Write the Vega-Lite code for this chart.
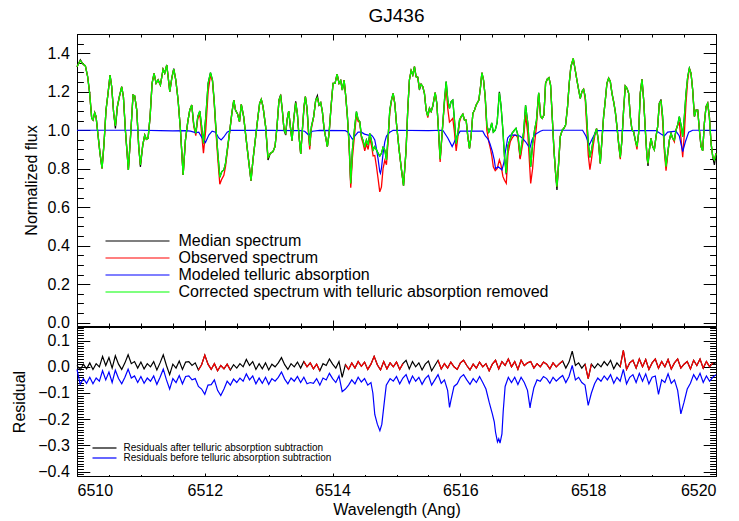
{
"$schema": "https://vega.github.io/schema/vega-lite/v6.json",
"padding": {"left": 11, "top": 6, "right": 5, "bottom": 5},
"background": "white",
"config": {"font": "Liberation Sans", "view": {"stroke": "black", "strokeWidth": 1}, "axis": {"domain": false, "grid": false, "tickColor": "black", "labelColor": "black", "titleColor": "black", "labelFont": "Liberation Sans", "titleFont": "Liberation Sans", "labelFontSize": 16, "titleFontSize": 16, "titleFontWeight": "normal", "tickWidth": 1}},
"datasets": {
"corrected": [
{"w":6510.000,"f":1.330},{"w":6510.052,"f":1.362},{"w":6510.094,"f":1.344},{"w":6510.131,"f":1.334},{"w":6510.167,"f":1.278},{"w":6510.198,"f":1.192},{"w":6510.230,"f":1.062},{"w":6510.251,"f":1.053},{"w":6510.277,"f":1.091},{"w":6510.298,"f":1.071},{"w":6510.329,"f":0.975},{"w":6510.360,"f":0.880},{"w":6510.392,"f":0.802},{"w":6510.423,"f":0.932},{"w":6510.454,"f":1.105},{"w":6510.486,"f":1.192},{"w":6510.517,"f":1.287},{"w":6510.543,"f":1.226},{"w":6510.574,"f":1.088},{"w":6510.601,"f":1.022},{"w":6510.632,"f":1.123},{"w":6510.663,"f":1.175},{"w":6510.700,"f":1.226},{"w":6510.726,"f":1.175},{"w":6510.757,"f":1.001},{"w":6510.804,"f":0.794},{"w":6510.841,"f":0.984},{"w":6510.877,"f":1.183},{"w":6510.903,"f":1.178},{"w":6510.935,"f":1.105},{"w":6510.966,"f":0.915},{"w":6510.992,"f":0.820},{"w":6511.029,"f":0.923},{"w":6511.060,"f":0.975},{"w":6511.086,"f":0.953},{"w":6511.112,"f":0.958},{"w":6511.144,"f":1.071},{"w":6511.175,"f":1.244},{"w":6511.206,"f":1.296},{"w":6511.238,"f":1.244},{"w":6511.269,"f":1.261},{"w":6511.305,"f":1.235},{"w":6511.347,"f":1.317},{"w":6511.373,"f":1.296},{"w":6511.405,"f":1.339},{"w":6511.426,"f":1.278},{"w":6511.452,"f":1.201},{"w":6511.483,"f":1.270},{"w":6511.514,"f":1.317},{"w":6511.546,"f":1.261},{"w":6511.582,"f":1.157},{"w":6511.619,"f":1.001},{"w":6511.661,"f":0.768},{"w":6511.697,"f":0.949},{"w":6511.734,"f":1.045},{"w":6511.765,"f":1.105},{"w":6511.796,"f":1.131},{"w":6511.828,"f":1.027},{"w":6511.859,"f":0.984},{"w":6511.890,"f":1.071},{"w":6511.922,"f":1.100},{"w":6511.948,"f":1.027},{"w":6511.979,"f":0.932},{"w":6512.016,"f":1.071},{"w":6512.052,"f":1.244},{"w":6512.089,"f":1.299},{"w":6512.120,"f":1.261},{"w":6512.146,"f":1.157},{"w":6512.172,"f":1.019},{"w":6512.204,"f":0.880},{"w":6512.235,"f":0.756},{"w":6512.266,"f":0.785},{"w":6512.298,"f":0.794},{"w":6512.324,"f":0.828},{"w":6512.355,"f":0.906},{"w":6512.392,"f":1.001},{"w":6512.423,"f":1.088},{"w":6512.454,"f":1.157},{"w":6512.480,"f":1.105},{"w":6512.512,"f":1.085},{"w":6512.543,"f":1.045},{"w":6512.571,"f":1.135},{"w":6512.608,"f":1.071},{"w":6512.649,"f":0.949},{"w":6512.691,"f":0.828},{"w":6512.723,"f":0.738},{"w":6512.754,"f":0.846},{"w":6512.796,"f":0.967},{"w":6512.832,"f":1.071},{"w":6512.858,"f":1.140},{"w":6512.884,"f":1.161},{"w":6512.911,"f":1.123},{"w":6512.952,"f":1.019},{"w":6512.989,"f":0.859},{"w":6513.025,"f":0.880},{"w":6513.067,"f":0.889},{"w":6513.099,"f":0.915},{"w":6513.130,"f":1.019},{"w":6513.161,"f":1.157},{"w":6513.187,"f":1.178},{"w":6513.213,"f":1.105},{"w":6513.240,"f":1.001},{"w":6513.266,"f":0.984},{"w":6513.287,"f":1.053},{"w":6513.313,"f":1.100},{"w":6513.339,"f":1.019},{"w":6513.365,"f":0.946},{"w":6513.391,"f":1.053},{"w":6513.422,"f":1.143},{"w":6513.448,"f":1.088},{"w":6513.475,"f":0.967},{"w":6513.501,"f":0.877},{"w":6513.527,"f":1.001},{"w":6513.553,"f":1.123},{"w":6513.574,"f":1.175},{"w":6513.600,"f":1.114},{"w":6513.626,"f":0.984},{"w":6513.642,"f":0.918},{"w":6513.668,"f":1.019},{"w":6513.704,"f":1.071},{"w":6513.736,"f":1.157},{"w":6513.762,"f":1.169},{"w":6513.788,"f":1.131},{"w":6513.814,"f":1.143},{"w":6513.840,"f":1.097},{"w":6513.866,"f":1.010},{"w":6513.892,"f":0.963},{"w":6513.918,"f":0.915},{"w":6513.945,"f":0.984},{"w":6513.976,"f":1.123},{"w":6514.007,"f":1.244},{"w":6514.038,"f":1.244},{"w":6514.070,"f":1.292},{"w":6514.101,"f":1.244},{"w":6514.127,"f":1.258},{"w":6514.153,"f":1.209},{"w":6514.180,"f":1.261},{"w":6514.206,"f":1.175},{"w":6514.232,"f":1.071},{"w":6514.258,"f":0.932},{"w":6514.284,"f":0.724},{"w":6514.310,"f":0.898},{"w":6514.347,"f":1.019},{"w":6514.373,"f":1.097},{"w":6514.399,"f":1.057},{"w":6514.425,"f":1.045},{"w":6514.451,"f":0.970},{"w":6514.477,"f":0.946},{"w":6514.503,"f":0.911},{"w":6514.529,"f":0.949},{"w":6514.556,"f":0.923},{"w":6514.582,"f":0.984},{"w":6514.608,"f":0.946},{"w":6514.634,"f":0.898},{"w":6514.660,"f":0.915},{"w":6514.686,"f":0.898},{"w":6514.712,"f":0.880},{"w":6514.738,"f":0.866},{"w":6514.764,"f":0.880},{"w":6514.790,"f":0.911},{"w":6514.817,"f":0.898},{"w":6514.843,"f":0.846},{"w":6514.869,"f":0.967},{"w":6514.895,"f":1.105},{"w":6514.921,"f":1.157},{"w":6514.947,"f":1.192},{"w":6514.973,"f":1.140},{"w":6514.999,"f":1.036},{"w":6515.041,"f":0.898},{"w":6515.078,"f":0.794},{"w":6515.110,"f":0.712},{"w":6515.150,"f":0.898},{"w":6515.176,"f":1.105},{"w":6515.202,"f":1.261},{"w":6515.229,"f":1.310},{"w":6515.255,"f":1.287},{"w":6515.281,"f":1.330},{"w":6515.307,"f":1.278},{"w":6515.333,"f":1.275},{"w":6515.359,"f":1.218},{"w":6515.385,"f":1.239},{"w":6515.411,"f":1.227},{"w":6515.437,"f":1.192},{"w":6515.464,"f":1.105},{"w":6515.490,"f":1.074},{"w":6515.516,"f":1.114},{"w":6515.542,"f":1.097},{"w":6515.568,"f":1.126},{"w":6515.605,"f":1.195},{"w":6515.631,"f":1.140},{"w":6515.657,"f":1.001},{"w":6515.683,"f":0.849},{"w":6515.714,"f":0.984},{"w":6515.751,"f":1.157},{"w":6515.777,"f":1.253},{"w":6515.803,"f":1.157},{"w":6515.829,"f":1.114},{"w":6515.855,"f":1.149},{"w":6515.881,"f":1.157},{"w":6515.907,"f":1.053},{"w":6515.934,"f":0.929},{"w":6515.960,"f":0.984},{"w":6515.986,"f":1.053},{"w":6516.012,"f":1.071},{"w":6516.038,"f":1.083},{"w":6516.064,"f":1.053},{"w":6516.090,"f":1.053},{"w":6516.116,"f":0.967},{"w":6516.142,"f":0.906},{"w":6516.169,"f":0.975},{"w":6516.195,"f":1.088},{"w":6516.221,"f":1.105},{"w":6516.247,"f":1.131},{"w":6516.289,"f":1.157},{"w":6516.315,"f":1.226},{"w":6516.336,"f":1.299},{"w":6516.362,"f":1.261},{"w":6516.388,"f":1.175},{"w":6516.414,"f":1.025},{"w":6516.445,"f":0.990},{"w":6516.470,"f":1.010},{"w":6516.490,"f":1.038},{"w":6516.515,"f":0.990},{"w":6516.545,"f":1.000},{"w":6516.575,"f":1.040},{"w":6516.610,"f":1.195},{"w":6516.635,"f":1.130},{"w":6516.665,"f":1.000},{"w":6516.690,"f":0.863},{"w":6516.718,"f":0.778},{"w":6516.745,"f":0.920},{"w":6516.780,"f":0.955},{"w":6516.810,"f":0.985},{"w":6516.845,"f":1.000},{"w":6516.870,"f":1.010},{"w":6516.900,"f":0.975},{"w":6516.935,"f":0.870},{"w":6516.960,"f":0.930},{"w":6516.990,"f":0.990},{"w":6517.020,"f":1.130},{"w":6517.055,"f":1.036},{"w":6517.100,"f":0.810},{"w":6517.130,"f":0.930},{"w":6517.160,"f":1.000},{"w":6517.190,"f":1.050},{"w":6517.225,"f":1.195},{"w":6517.255,"f":1.071},{"w":6517.281,"f":1.062},{"w":6517.307,"f":1.079},{"w":6517.333,"f":1.244},{"w":6517.359,"f":1.265},{"w":6517.385,"f":1.273},{"w":6517.411,"f":1.235},{"w":6517.437,"f":1.071},{"w":6517.464,"f":0.898},{"w":6517.490,"f":0.776},{"w":6517.511,"f":0.707},{"w":6517.537,"f":0.828},{"w":6517.563,"f":0.967},{"w":6517.594,"f":1.001},{"w":6517.620,"f":1.010},{"w":6517.646,"f":1.027},{"w":6517.677,"f":1.123},{"w":6517.703,"f":1.244},{"w":6517.729,"f":1.330},{"w":6517.766,"f":1.374},{"w":6517.797,"f":1.313},{"w":6517.823,"f":1.261},{"w":6517.849,"f":1.213},{"w":6517.876,"f":1.166},{"w":6517.902,"f":1.201},{"w":6517.928,"f":1.213},{"w":6517.954,"f":1.175},{"w":6517.975,"f":1.071},{"w":6518.001,"f":0.932},{"w":6518.027,"f":0.859},{"w":6518.053,"f":0.898},{"w":6518.079,"f":0.949},{"w":6518.105,"f":0.984},{"w":6518.131,"f":1.008},{"w":6518.158,"f":0.949},{"w":6518.189,"f":0.828},{"w":6518.215,"f":0.949},{"w":6518.241,"f":1.071},{"w":6518.268,"f":1.157},{"w":6518.293,"f":1.244},{"w":6518.320,"f":1.270},{"w":6518.346,"f":1.253},{"w":6518.372,"f":1.192},{"w":6518.398,"f":1.149},{"w":6518.424,"f":1.097},{"w":6518.450,"f":1.019},{"w":6518.476,"f":0.932},{"w":6518.502,"f":0.859},{"w":6518.528,"f":0.949},{"w":6518.554,"f":1.105},{"w":6518.580,"f":1.230},{"w":6518.607,"f":1.218},{"w":6518.633,"f":1.192},{"w":6518.659,"f":1.071},{"w":6518.685,"f":1.001},{"w":6518.711,"f":0.993},{"w":6518.737,"f":0.949},{"w":6518.763,"f":0.915},{"w":6518.789,"f":0.984},{"w":6518.815,"f":1.192},{"w":6518.842,"f":1.265},{"w":6518.868,"f":1.157},{"w":6518.894,"f":1.001},{"w":6518.920,"f":0.863},{"w":6518.936,"f":0.828},{"w":6518.957,"f":0.898},{"w":6518.983,"f":0.958},{"w":6519.009,"f":0.915},{"w":6519.035,"f":0.898},{"w":6519.061,"f":0.967},{"w":6519.087,"f":1.019},{"w":6519.113,"f":1.140},{"w":6519.139,"f":1.152},{"w":6519.165,"f":1.071},{"w":6519.192,"f":0.915},{"w":6519.218,"f":0.811},{"w":6519.244,"f":0.880},{"w":6519.270,"f":0.949},{"w":6519.296,"f":0.984},{"w":6519.322,"f":0.958},{"w":6519.348,"f":0.949},{"w":6519.374,"f":1.001},{"w":6519.400,"f":1.027},{"w":6519.426,"f":1.071},{"w":6519.453,"f":1.027},{"w":6519.479,"f":0.967},{"w":6519.505,"f":1.071},{"w":6519.531,"f":1.192},{"w":6519.557,"f":1.278},{"w":6519.583,"f":1.322},{"w":6519.609,"f":1.296},{"w":6519.635,"f":1.209},{"w":6519.662,"f":1.071},{"w":6519.688,"f":1.105},{"w":6519.714,"f":1.105},{"w":6519.740,"f":1.001},{"w":6519.766,"f":0.915},{"w":6519.792,"f":0.894},{"w":6519.818,"f":1.036},{"w":6519.844,"f":1.123},{"w":6519.870,"f":1.140},{"w":6519.896,"f":1.071},{"w":6519.923,"f":0.932},{"w":6519.949,"f":0.863},{"w":6519.975,"f":0.846},{"w":6520.000,"f":0.880}
],
"median": [
{"w":6510.000,"f":1.330},{"w":6510.052,"f":1.366},{"w":6510.094,"f":1.344},{"w":6510.131,"f":1.334},{"w":6510.167,"f":1.278},{"w":6510.198,"f":1.192},{"w":6510.230,"f":1.062},{"w":6510.251,"f":1.053},{"w":6510.277,"f":1.091},{"w":6510.298,"f":1.071},{"w":6510.329,"f":0.975},{"w":6510.360,"f":0.880},{"w":6510.392,"f":0.802},{"w":6510.423,"f":0.932},{"w":6510.454,"f":1.105},{"w":6510.486,"f":1.192},{"w":6510.517,"f":1.287},{"w":6510.543,"f":1.226},{"w":6510.574,"f":1.088},{"w":6510.601,"f":1.010},{"w":6510.632,"f":1.123},{"w":6510.663,"f":1.175},{"w":6510.700,"f":1.226},{"w":6510.726,"f":1.175},{"w":6510.757,"f":1.001},{"w":6510.804,"f":0.794},{"w":6510.841,"f":0.984},{"w":6510.877,"f":1.183},{"w":6510.903,"f":1.178},{"w":6510.935,"f":1.105},{"w":6510.966,"f":0.915},{"w":6510.992,"f":0.810},{"w":6511.029,"f":0.923},{"w":6511.060,"f":0.975},{"w":6511.086,"f":0.953},{"w":6511.112,"f":0.958},{"w":6511.144,"f":1.071},{"w":6511.175,"f":1.244},{"w":6511.206,"f":1.296},{"w":6511.238,"f":1.244},{"w":6511.269,"f":1.261},{"w":6511.305,"f":1.235},{"w":6511.347,"f":1.317},{"w":6511.373,"f":1.296},{"w":6511.405,"f":1.339},{"w":6511.426,"f":1.278},{"w":6511.452,"f":1.201},{"w":6511.483,"f":1.270},{"w":6511.514,"f":1.320},{"w":6511.546,"f":1.261},{"w":6511.582,"f":1.157},{"w":6511.619,"f":1.001},{"w":6511.661,"f":0.768},{"w":6511.697,"f":0.949},{"w":6511.734,"f":1.045},{"w":6511.765,"f":1.105},{"w":6511.796,"f":1.131},{"w":6511.828,"f":1.027},{"w":6511.859,"f":0.984},{"w":6511.890,"f":1.071},{"w":6511.922,"f":1.100},{"w":6511.948,"f":1.027},{"w":6511.979,"f":0.932},{"w":6512.016,"f":1.071},{"w":6512.052,"f":1.244},{"w":6512.089,"f":1.299},{"w":6512.120,"f":1.261},{"w":6512.146,"f":1.157},{"w":6512.172,"f":1.019},{"w":6512.204,"f":0.880},{"w":6512.235,"f":0.756},{"w":6512.266,"f":0.785},{"w":6512.298,"f":0.794},{"w":6512.324,"f":0.828},{"w":6512.355,"f":0.906},{"w":6512.392,"f":1.001},{"w":6512.423,"f":1.088},{"w":6512.454,"f":1.157},{"w":6512.480,"f":1.105},{"w":6512.512,"f":1.085},{"w":6512.543,"f":1.045},{"w":6512.571,"f":1.135},{"w":6512.608,"f":1.071},{"w":6512.649,"f":0.949},{"w":6512.691,"f":0.828},{"w":6512.723,"f":0.738},{"w":6512.754,"f":0.846},{"w":6512.796,"f":0.967},{"w":6512.832,"f":1.071},{"w":6512.858,"f":1.140},{"w":6512.884,"f":1.161},{"w":6512.911,"f":1.123},{"w":6512.952,"f":1.019},{"w":6512.989,"f":0.845},{"w":6513.025,"f":0.880},{"w":6513.067,"f":0.889},{"w":6513.099,"f":0.915},{"w":6513.130,"f":1.019},{"w":6513.161,"f":1.157},{"w":6513.187,"f":1.185},{"w":6513.213,"f":1.105},{"w":6513.240,"f":1.001},{"w":6513.266,"f":0.975},{"w":6513.287,"f":1.053},{"w":6513.313,"f":1.100},{"w":6513.339,"f":1.019},{"w":6513.365,"f":0.946},{"w":6513.391,"f":1.053},{"w":6513.422,"f":1.150},{"w":6513.448,"f":1.088},{"w":6513.475,"f":0.967},{"w":6513.501,"f":0.877},{"w":6513.527,"f":1.001},{"w":6513.553,"f":1.123},{"w":6513.574,"f":1.175},{"w":6513.600,"f":1.114},{"w":6513.626,"f":0.984},{"w":6513.642,"f":0.918},{"w":6513.668,"f":1.019},{"w":6513.704,"f":1.071},{"w":6513.736,"f":1.157},{"w":6513.762,"f":1.180},{"w":6513.788,"f":1.131},{"w":6513.814,"f":1.143},{"w":6513.840,"f":1.097},{"w":6513.866,"f":1.010},{"w":6513.892,"f":0.963},{"w":6513.918,"f":0.915},{"w":6513.945,"f":0.984},{"w":6513.976,"f":1.123},{"w":6514.007,"f":1.244},{"w":6514.038,"f":1.244},{"w":6514.070,"f":1.292},{"w":6514.101,"f":1.244},{"w":6514.127,"f":1.258},{"w":6514.153,"f":1.209},{"w":6514.180,"f":1.261},{"w":6514.206,"f":1.175},{"w":6514.232,"f":1.071},{"w":6514.258,"f":0.932},{"w":6514.284,"f":0.724},{"w":6514.310,"f":0.898},{"w":6514.347,"f":1.019},{"w":6514.373,"f":1.097},{"w":6514.399,"f":1.057},{"w":6514.425,"f":1.045},{"w":6514.451,"f":0.970},{"w":6514.477,"f":0.946},{"w":6514.503,"f":0.911},{"w":6514.529,"f":0.949},{"w":6514.556,"f":0.923},{"w":6514.582,"f":0.984},{"w":6514.608,"f":0.946},{"w":6514.634,"f":0.898},{"w":6514.660,"f":0.915},{"w":6514.686,"f":0.898},{"w":6514.712,"f":0.880},{"w":6514.738,"f":0.866},{"w":6514.764,"f":0.880},{"w":6514.790,"f":0.911},{"w":6514.817,"f":0.898},{"w":6514.843,"f":0.846},{"w":6514.869,"f":0.967},{"w":6514.895,"f":1.105},{"w":6514.921,"f":1.157},{"w":6514.947,"f":1.192},{"w":6514.973,"f":1.140},{"w":6514.999,"f":1.036},{"w":6515.041,"f":0.898},{"w":6515.078,"f":0.794},{"w":6515.110,"f":0.712},{"w":6515.150,"f":0.898},{"w":6515.176,"f":1.105},{"w":6515.202,"f":1.261},{"w":6515.229,"f":1.310},{"w":6515.255,"f":1.287},{"w":6515.281,"f":1.330},{"w":6515.307,"f":1.278},{"w":6515.333,"f":1.275},{"w":6515.359,"f":1.210},{"w":6515.385,"f":1.239},{"w":6515.411,"f":1.227},{"w":6515.437,"f":1.192},{"w":6515.464,"f":1.105},{"w":6515.490,"f":1.074},{"w":6515.516,"f":1.114},{"w":6515.542,"f":1.097},{"w":6515.568,"f":1.126},{"w":6515.605,"f":1.195},{"w":6515.631,"f":1.140},{"w":6515.657,"f":1.001},{"w":6515.683,"f":0.849},{"w":6515.714,"f":0.984},{"w":6515.751,"f":1.157},{"w":6515.777,"f":1.253},{"w":6515.803,"f":1.157},{"w":6515.829,"f":1.114},{"w":6515.855,"f":1.149},{"w":6515.881,"f":1.157},{"w":6515.907,"f":1.053},{"w":6515.934,"f":0.929},{"w":6515.960,"f":0.984},{"w":6515.986,"f":1.053},{"w":6516.012,"f":1.071},{"w":6516.038,"f":1.083},{"w":6516.064,"f":1.053},{"w":6516.090,"f":1.053},{"w":6516.116,"f":0.967},{"w":6516.142,"f":0.906},{"w":6516.169,"f":0.975},{"w":6516.195,"f":1.088},{"w":6516.221,"f":1.105},{"w":6516.247,"f":1.131},{"w":6516.289,"f":1.157},{"w":6516.315,"f":1.226},{"w":6516.336,"f":1.299},{"w":6516.362,"f":1.261},{"w":6516.388,"f":1.175},{"w":6516.414,"f":1.025},{"w":6516.445,"f":0.990},{"w":6516.470,"f":1.010},{"w":6516.490,"f":1.038},{"w":6516.515,"f":0.990},{"w":6516.545,"f":1.000},{"w":6516.575,"f":1.040},{"w":6516.610,"f":1.200},{"w":6516.635,"f":1.130},{"w":6516.665,"f":1.000},{"w":6516.690,"f":0.863},{"w":6516.718,"f":0.770},{"w":6516.745,"f":0.920},{"w":6516.780,"f":0.955},{"w":6516.810,"f":0.985},{"w":6516.845,"f":1.000},{"w":6516.870,"f":1.010},{"w":6516.900,"f":0.975},{"w":6516.935,"f":0.855},{"w":6516.960,"f":0.930},{"w":6516.990,"f":0.990},{"w":6517.020,"f":1.130},{"w":6517.055,"f":1.036},{"w":6517.100,"f":0.810},{"w":6517.130,"f":0.930},{"w":6517.160,"f":1.000},{"w":6517.190,"f":1.050},{"w":6517.225,"f":1.195},{"w":6517.255,"f":1.071},{"w":6517.281,"f":1.062},{"w":6517.307,"f":1.079},{"w":6517.333,"f":1.244},{"w":6517.359,"f":1.265},{"w":6517.385,"f":1.273},{"w":6517.411,"f":1.235},{"w":6517.437,"f":1.071},{"w":6517.464,"f":0.898},{"w":6517.490,"f":0.776},{"w":6517.511,"f":0.690},{"w":6517.537,"f":0.828},{"w":6517.563,"f":0.967},{"w":6517.594,"f":1.001},{"w":6517.620,"f":1.010},{"w":6517.646,"f":1.027},{"w":6517.677,"f":1.123},{"w":6517.703,"f":1.244},{"w":6517.729,"f":1.330},{"w":6517.766,"f":1.370},{"w":6517.797,"f":1.313},{"w":6517.823,"f":1.261},{"w":6517.849,"f":1.213},{"w":6517.876,"f":1.166},{"w":6517.902,"f":1.201},{"w":6517.928,"f":1.213},{"w":6517.954,"f":1.175},{"w":6517.975,"f":1.071},{"w":6518.001,"f":0.932},{"w":6518.027,"f":0.859},{"w":6518.053,"f":0.898},{"w":6518.079,"f":0.949},{"w":6518.105,"f":0.984},{"w":6518.131,"f":1.008},{"w":6518.158,"f":0.949},{"w":6518.189,"f":0.828},{"w":6518.215,"f":0.949},{"w":6518.241,"f":1.071},{"w":6518.268,"f":1.157},{"w":6518.293,"f":1.244},{"w":6518.320,"f":1.270},{"w":6518.346,"f":1.253},{"w":6518.372,"f":1.192},{"w":6518.398,"f":1.149},{"w":6518.424,"f":1.097},{"w":6518.450,"f":1.019},{"w":6518.476,"f":0.932},{"w":6518.502,"f":0.859},{"w":6518.528,"f":0.949},{"w":6518.554,"f":1.105},{"w":6518.580,"f":1.230},{"w":6518.607,"f":1.218},{"w":6518.633,"f":1.192},{"w":6518.659,"f":1.071},{"w":6518.685,"f":1.001},{"w":6518.711,"f":0.993},{"w":6518.737,"f":0.949},{"w":6518.763,"f":0.915},{"w":6518.789,"f":0.984},{"w":6518.815,"f":1.192},{"w":6518.842,"f":1.265},{"w":6518.868,"f":1.157},{"w":6518.894,"f":1.001},{"w":6518.920,"f":0.863},{"w":6518.936,"f":0.815},{"w":6518.957,"f":0.898},{"w":6518.983,"f":0.958},{"w":6519.009,"f":0.915},{"w":6519.035,"f":0.898},{"w":6519.061,"f":0.967},{"w":6519.087,"f":1.019},{"w":6519.113,"f":1.140},{"w":6519.139,"f":1.160},{"w":6519.165,"f":1.071},{"w":6519.192,"f":0.915},{"w":6519.218,"f":0.811},{"w":6519.244,"f":0.880},{"w":6519.270,"f":0.949},{"w":6519.296,"f":0.984},{"w":6519.322,"f":0.958},{"w":6519.348,"f":0.949},{"w":6519.374,"f":1.001},{"w":6519.400,"f":1.027},{"w":6519.426,"f":1.071},{"w":6519.453,"f":1.027},{"w":6519.479,"f":0.967},{"w":6519.505,"f":1.071},{"w":6519.531,"f":1.192},{"w":6519.557,"f":1.278},{"w":6519.583,"f":1.322},{"w":6519.609,"f":1.296},{"w":6519.635,"f":1.209},{"w":6519.662,"f":1.071},{"w":6519.688,"f":1.105},{"w":6519.714,"f":1.105},{"w":6519.740,"f":1.001},{"w":6519.766,"f":0.915},{"w":6519.792,"f":0.894},{"w":6519.818,"f":1.036},{"w":6519.844,"f":1.123},{"w":6519.870,"f":1.140},{"w":6519.896,"f":1.071},{"w":6519.923,"f":0.932},{"w":6519.949,"f":0.863},{"w":6519.975,"f":0.820},{"w":6520.000,"f":0.880}
],
"observed": [
{"w":6510.000,"f":1.330},{"w":6510.052,"f":1.362},{"w":6510.094,"f":1.344},{"w":6510.131,"f":1.334},{"w":6510.167,"f":1.278},{"w":6510.198,"f":1.192},{"w":6510.230,"f":1.062},{"w":6510.251,"f":1.053},{"w":6510.277,"f":1.091},{"w":6510.298,"f":1.071},{"w":6510.329,"f":0.975},{"w":6510.360,"f":0.880},{"w":6510.392,"f":0.802},{"w":6510.423,"f":0.932},{"w":6510.454,"f":1.105},{"w":6510.486,"f":1.192},{"w":6510.517,"f":1.287},{"w":6510.543,"f":1.226},{"w":6510.574,"f":1.088},{"w":6510.601,"f":1.022},{"w":6510.632,"f":1.123},{"w":6510.663,"f":1.175},{"w":6510.700,"f":1.226},{"w":6510.726,"f":1.175},{"w":6510.757,"f":1.001},{"w":6510.804,"f":0.794},{"w":6510.841,"f":0.984},{"w":6510.877,"f":1.183},{"w":6510.903,"f":1.178},{"w":6510.935,"f":1.105},{"w":6510.966,"f":0.915},{"w":6510.992,"f":0.820},{"w":6511.029,"f":0.923},{"w":6511.060,"f":0.975},{"w":6511.086,"f":0.953},{"w":6511.112,"f":0.958},{"w":6511.144,"f":1.071},{"w":6511.175,"f":1.244},{"w":6511.206,"f":1.296},{"w":6511.238,"f":1.244},{"w":6511.269,"f":1.261},{"w":6511.305,"f":1.235},{"w":6511.347,"f":1.317},{"w":6511.373,"f":1.296},{"w":6511.405,"f":1.339},{"w":6511.426,"f":1.278},{"w":6511.452,"f":1.201},{"w":6511.483,"f":1.270},{"w":6511.514,"f":1.317},{"w":6511.546,"f":1.261},{"w":6511.582,"f":1.157},{"w":6511.619,"f":1.001},{"w":6511.661,"f":0.768},{"w":6511.697,"f":0.949},{"w":6511.734,"f":1.045},{"w":6511.765,"f":1.105},{"w":6511.796,"f":1.131},{"w":6511.828,"f":1.019},{"w":6511.859,"f":0.972},{"w":6511.890,"f":1.060},{"w":6511.922,"f":1.084},{"w":6511.948,"f":0.991},{"w":6511.979,"f":0.881},{"w":6512.016,"f":1.007},{"w":6512.052,"f":1.200},{"w":6512.089,"f":1.286},{"w":6512.120,"f":1.255},{"w":6512.146,"f":1.148},{"w":6512.172,"f":1.004},{"w":6512.204,"f":0.849},{"w":6512.235,"f":0.720},{"w":6512.266,"f":0.746},{"w":6512.298,"f":0.766},{"w":6512.324,"f":0.811},{"w":6512.355,"f":0.897},{"w":6512.392,"f":0.999},{"w":6512.423,"f":1.088},{"w":6512.454,"f":1.157},{"w":6512.480,"f":1.105},{"w":6512.512,"f":1.085},{"w":6512.543,"f":1.045},{"w":6512.571,"f":1.135},{"w":6512.608,"f":1.071},{"w":6512.649,"f":0.949},{"w":6512.691,"f":0.828},{"w":6512.723,"f":0.738},{"w":6512.754,"f":0.846},{"w":6512.796,"f":0.967},{"w":6512.832,"f":1.071},{"w":6512.858,"f":1.140},{"w":6512.884,"f":1.161},{"w":6512.911,"f":1.123},{"w":6512.952,"f":1.019},{"w":6512.989,"f":0.859},{"w":6513.025,"f":0.880},{"w":6513.067,"f":0.889},{"w":6513.099,"f":0.915},{"w":6513.130,"f":1.019},{"w":6513.161,"f":1.157},{"w":6513.187,"f":1.178},{"w":6513.213,"f":1.105},{"w":6513.240,"f":1.001},{"w":6513.266,"f":0.984},{"w":6513.287,"f":1.053},{"w":6513.313,"f":1.100},{"w":6513.339,"f":1.019},{"w":6513.365,"f":0.946},{"w":6513.391,"f":1.053},{"w":6513.422,"f":1.143},{"w":6513.448,"f":1.088},{"w":6513.475,"f":0.967},{"w":6513.501,"f":0.877},{"w":6513.527,"f":1.001},{"w":6513.553,"f":1.123},{"w":6513.574,"f":1.175},{"w":6513.600,"f":1.108},{"w":6513.626,"f":0.959},{"w":6513.642,"f":0.900},{"w":6513.668,"f":1.009},{"w":6513.704,"f":1.071},{"w":6513.736,"f":1.157},{"w":6513.762,"f":1.169},{"w":6513.788,"f":1.131},{"w":6513.814,"f":1.143},{"w":6513.840,"f":1.097},{"w":6513.866,"f":1.010},{"w":6513.892,"f":0.963},{"w":6513.918,"f":0.915},{"w":6513.945,"f":0.984},{"w":6513.976,"f":1.123},{"w":6514.007,"f":1.244},{"w":6514.038,"f":1.244},{"w":6514.070,"f":1.292},{"w":6514.101,"f":1.244},{"w":6514.127,"f":1.258},{"w":6514.153,"f":1.209},{"w":6514.180,"f":1.261},{"w":6514.206,"f":1.175},{"w":6514.232,"f":1.066},{"w":6514.258,"f":0.918},{"w":6514.284,"f":0.701},{"w":6514.310,"f":0.856},{"w":6514.347,"f":0.988},{"w":6514.373,"f":1.081},{"w":6514.399,"f":1.046},{"w":6514.425,"f":1.040},{"w":6514.451,"f":0.960},{"w":6514.477,"f":0.932},{"w":6514.503,"f":0.893},{"w":6514.529,"f":0.928},{"w":6514.556,"f":0.900},{"w":6514.582,"f":0.959},{"w":6514.608,"f":0.922},{"w":6514.634,"f":0.867},{"w":6514.660,"f":0.869},{"w":6514.686,"f":0.813},{"w":6514.712,"f":0.748},{"w":6514.738,"f":0.680},{"w":6514.764,"f":0.704},{"w":6514.790,"f":0.802},{"w":6514.817,"f":0.844},{"w":6514.843,"f":0.821},{"w":6514.869,"f":0.948},{"w":6514.895,"f":1.094},{"w":6514.921,"f":1.151},{"w":6514.947,"f":1.192},{"w":6514.973,"f":1.140},{"w":6514.999,"f":1.036},{"w":6515.041,"f":0.898},{"w":6515.078,"f":0.794},{"w":6515.110,"f":0.712},{"w":6515.150,"f":0.898},{"w":6515.176,"f":1.105},{"w":6515.202,"f":1.261},{"w":6515.229,"f":1.310},{"w":6515.255,"f":1.287},{"w":6515.281,"f":1.330},{"w":6515.307,"f":1.278},{"w":6515.333,"f":1.275},{"w":6515.359,"f":1.218},{"w":6515.385,"f":1.239},{"w":6515.411,"f":1.227},{"w":6515.437,"f":1.192},{"w":6515.464,"f":1.105},{"w":6515.490,"f":1.066},{"w":6515.516,"f":1.114},{"w":6515.542,"f":1.097},{"w":6515.568,"f":1.126},{"w":6515.605,"f":1.195},{"w":6515.631,"f":1.140},{"w":6515.657,"f":1.001},{"w":6515.683,"f":0.835},{"w":6515.714,"f":0.984},{"w":6515.751,"f":1.145},{"w":6515.777,"f":1.222},{"w":6515.803,"f":1.111},{"w":6515.829,"f":1.042},{"w":6515.855,"f":1.051},{"w":6515.881,"f":1.062},{"w":6515.907,"f":0.990},{"w":6515.934,"f":0.892},{"w":6515.960,"f":0.964},{"w":6515.986,"f":1.042},{"w":6516.012,"f":1.071},{"w":6516.038,"f":1.083},{"w":6516.064,"f":1.053},{"w":6516.090,"f":1.053},{"w":6516.116,"f":0.967},{"w":6516.142,"f":0.906},{"w":6516.169,"f":0.975},{"w":6516.195,"f":1.088},{"w":6516.221,"f":1.105},{"w":6516.247,"f":1.131},{"w":6516.289,"f":1.157},{"w":6516.315,"f":1.226},{"w":6516.336,"f":1.299},{"w":6516.362,"f":1.261},{"w":6516.388,"f":1.170},{"w":6516.414,"f":1.000},{"w":6516.445,"f":0.940},{"w":6516.470,"f":0.905},{"w":6516.490,"f":0.870},{"w":6516.515,"f":0.810},{"w":6516.545,"f":0.790},{"w":6516.575,"f":0.800},{"w":6516.610,"f":0.846},{"w":6516.635,"f":0.820},{"w":6516.665,"f":0.760},{"w":6516.690,"f":0.740},{"w":6516.718,"f":0.724},{"w":6516.745,"f":0.880},{"w":6516.780,"f":0.940},{"w":6516.810,"f":0.960},{"w":6516.845,"f":0.975},{"w":6516.870,"f":0.975},{"w":6516.900,"f":0.960},{"w":6516.935,"f":0.850},{"w":6516.960,"f":0.900},{"w":6516.990,"f":0.960},{"w":6517.020,"f":1.080},{"w":6517.055,"f":0.980},{"w":6517.100,"f":0.724},{"w":6517.130,"f":0.800},{"w":6517.160,"f":0.930},{"w":6517.190,"f":1.020},{"w":6517.225,"f":1.190},{"w":6517.255,"f":1.071},{"w":6517.281,"f":1.062},{"w":6517.307,"f":1.079},{"w":6517.333,"f":1.244},{"w":6517.359,"f":1.265},{"w":6517.385,"f":1.273},{"w":6517.411,"f":1.235},{"w":6517.437,"f":1.071},{"w":6517.464,"f":0.898},{"w":6517.490,"f":0.776},{"w":6517.511,"f":0.707},{"w":6517.537,"f":0.828},{"w":6517.563,"f":0.967},{"w":6517.594,"f":1.001},{"w":6517.620,"f":1.010},{"w":6517.646,"f":1.027},{"w":6517.677,"f":1.123},{"w":6517.703,"f":1.244},{"w":6517.729,"f":1.330},{"w":6517.766,"f":1.374},{"w":6517.797,"f":1.313},{"w":6517.823,"f":1.261},{"w":6517.849,"f":1.213},{"w":6517.876,"f":1.166},{"w":6517.902,"f":1.201},{"w":6517.928,"f":1.213},{"w":6517.954,"f":1.157},{"w":6517.975,"f":1.028},{"w":6518.001,"f":0.871},{"w":6518.027,"f":0.795},{"w":6518.053,"f":0.853},{"w":6518.079,"f":0.921},{"w":6518.105,"f":0.974},{"w":6518.131,"f":1.008},{"w":6518.158,"f":0.949},{"w":6518.189,"f":0.828},{"w":6518.215,"f":0.949},{"w":6518.241,"f":1.071},{"w":6518.268,"f":1.157},{"w":6518.293,"f":1.244},{"w":6518.320,"f":1.270},{"w":6518.346,"f":1.253},{"w":6518.372,"f":1.192},{"w":6518.398,"f":1.149},{"w":6518.424,"f":1.097},{"w":6518.450,"f":1.019},{"w":6518.476,"f":0.932},{"w":6518.502,"f":0.850},{"w":6518.528,"f":0.949},{"w":6518.554,"f":1.105},{"w":6518.580,"f":1.230},{"w":6518.607,"f":1.218},{"w":6518.633,"f":1.192},{"w":6518.659,"f":1.071},{"w":6518.685,"f":1.001},{"w":6518.711,"f":0.993},{"w":6518.737,"f":0.949},{"w":6518.763,"f":0.900},{"w":6518.789,"f":0.984},{"w":6518.815,"f":1.192},{"w":6518.842,"f":1.265},{"w":6518.868,"f":1.157},{"w":6518.894,"f":1.001},{"w":6518.920,"f":0.863},{"w":6518.936,"f":0.828},{"w":6518.957,"f":0.898},{"w":6518.983,"f":0.958},{"w":6519.009,"f":0.915},{"w":6519.035,"f":0.898},{"w":6519.061,"f":0.967},{"w":6519.087,"f":1.019},{"w":6519.113,"f":1.140},{"w":6519.139,"f":1.152},{"w":6519.165,"f":1.044},{"w":6519.192,"f":0.888},{"w":6519.218,"f":0.790},{"w":6519.244,"f":0.871},{"w":6519.270,"f":0.949},{"w":6519.296,"f":0.984},{"w":6519.322,"f":0.958},{"w":6519.348,"f":0.940},{"w":6519.374,"f":1.001},{"w":6519.400,"f":1.027},{"w":6519.426,"f":1.039},{"w":6519.453,"f":0.955},{"w":6519.479,"f":0.860},{"w":6519.505,"f":0.985},{"w":6519.531,"f":1.144},{"w":6519.557,"f":1.259},{"w":6519.583,"f":1.322},{"w":6519.609,"f":1.296},{"w":6519.635,"f":1.209},{"w":6519.662,"f":1.071},{"w":6519.688,"f":1.105},{"w":6519.714,"f":1.105},{"w":6519.740,"f":1.001},{"w":6519.766,"f":0.915},{"w":6519.792,"f":0.894},{"w":6519.818,"f":1.036},{"w":6519.844,"f":1.123},{"w":6519.870,"f":1.140},{"w":6519.896,"f":1.071},{"w":6519.923,"f":0.932},{"w":6519.949,"f":0.863},{"w":6519.975,"f":0.846},{"w":6520.000,"f":0.880}
],
"telluric": [
{"w":6510.000,"f":1.000},{"w":6511.000,"f":1.000},{"w":6511.300,"f":0.998},{"w":6511.500,"f":0.997},{"w":6511.700,"f":0.998},{"w":6511.775,"f":0.995},{"w":6511.854,"f":0.988},{"w":6511.906,"f":0.990},{"w":6511.958,"f":0.960},{"w":6512.010,"f":0.936},{"w":6512.063,"f":0.975},{"w":6512.115,"f":0.995},{"w":6512.167,"f":0.990},{"w":6512.219,"f":0.960},{"w":6512.256,"f":0.950},{"w":6512.298,"f":0.965},{"w":6512.350,"f":0.990},{"w":6512.402,"f":1.000},{"w":6513.000,"f":0.999},{"w":6513.500,"f":0.998},{"w":6513.563,"f":0.995},{"w":6513.626,"f":0.975},{"w":6513.683,"f":0.995},{"w":6513.800,"f":0.999},{"w":6514.200,"f":0.998},{"w":6514.242,"f":0.990},{"w":6514.279,"f":0.970},{"w":6514.310,"f":0.953},{"w":6514.347,"f":0.970},{"w":6514.399,"f":0.990},{"w":6514.450,"f":0.990},{"w":6514.500,"f":0.980},{"w":6514.556,"f":0.975},{"w":6514.608,"f":0.975},{"w":6514.634,"f":0.965},{"w":6514.660,"f":0.950},{"w":6514.686,"f":0.905},{"w":6514.712,"f":0.850},{"w":6514.738,"f":0.785},{"w":6514.749,"f":0.776},{"w":6514.764,"f":0.800},{"w":6514.790,"f":0.880},{"w":6514.817,"f":0.940},{"w":6514.843,"f":0.970},{"w":6514.869,"f":0.980},{"w":6514.895,"f":0.990},{"w":6514.947,"f":1.000},{"w":6515.500,"f":0.998},{"w":6515.725,"f":1.000},{"w":6515.803,"f":0.960},{"w":6515.871,"f":0.915},{"w":6515.934,"f":0.960},{"w":6515.996,"f":0.995},{"w":6516.350,"f":0.995},{"w":6516.390,"f":0.970},{"w":6516.430,"f":0.955},{"w":6516.460,"f":0.932},{"w":6516.500,"f":0.890},{"w":6516.530,"f":0.846},{"w":6516.550,"f":0.800},{"w":6516.590,"f":0.810},{"w":6516.630,"f":0.800},{"w":6516.650,"f":0.794},{"w":6516.680,"f":0.830},{"w":6516.700,"f":0.880},{"w":6516.740,"f":0.960},{"w":6516.780,"f":0.975},{"w":6516.850,"f":0.975},{"w":6516.930,"f":0.970},{"w":6516.980,"f":0.955},{"w":6517.020,"f":0.940},{"w":6517.070,"f":0.915},{"w":6517.090,"f":0.910},{"w":6517.120,"f":0.950},{"w":6517.160,"f":0.975},{"w":6517.200,"f":0.985},{"w":6517.250,"f":0.995},{"w":6517.291,"f":1.000},{"w":6517.912,"f":1.000},{"w":6517.964,"f":0.970},{"w":6518.017,"f":0.923},{"w":6518.069,"f":0.960},{"w":6518.131,"f":0.998},{"w":6519.061,"f":0.998},{"w":6519.139,"f":0.980},{"w":6519.192,"f":0.970},{"w":6519.244,"f":0.990},{"w":6519.374,"f":0.995},{"w":6519.426,"f":0.970},{"w":6519.479,"f":0.889},{"w":6519.521,"f":0.940},{"w":6519.573,"f":0.990},{"w":6519.635,"f":1.000},{"w":6520.000,"f":1.000}
],
"after": [
{"w":6510.00,"r":0.005},{"w":6510.05,"r":-0.012},{"w":6510.10,"r":0.010},{"w":6510.15,"r":-0.008},{"w":6510.20,"r":0.015},{"w":6510.25,"r":-0.010},{"w":6510.30,"r":0.012},{"w":6510.35,"r":0.000},{"w":6510.40,"r":0.040},{"w":6510.45,"r":0.005},{"w":6510.50,"r":0.035},{"w":6510.55,"r":-0.005},{"w":6510.60,"r":0.042},{"w":6510.65,"r":0.010},{"w":6510.70,"r":-0.010},{"w":6510.75,"r":0.015},{"w":6510.80,"r":0.046},{"w":6510.85,"r":0.012},{"w":6510.90,"r":0.020},{"w":6510.95,"r":-0.005},{"w":6511.00,"r":0.018},{"w":6511.05,"r":-0.008},{"w":6511.10,"r":0.012},{"w":6511.15,"r":0.000},{"w":6511.20,"r":0.020},{"w":6511.25,"r":-0.012},{"w":6511.30,"r":0.015},{"w":6511.35,"r":0.046},{"w":6511.40,"r":0.005},{"w":6511.45,"r":-0.030},{"w":6511.50,"r":0.010},{"w":6511.55,"r":-0.005},{"w":6511.60,"r":0.022},{"w":6511.65,"r":-0.010},{"w":6511.70,"r":0.018},{"w":6511.75,"r":0.020},{"w":6511.80,"r":0.005},{"w":6511.85,"r":0.015},
{"w":6511.90,"r":-0.012,"t":"t1"},{"w":6511.95,"r":0.008,"t":"t1"},{"w":6512.00,"r":0.045,"t":"t1"},{"w":6512.05,"r":0.010,"t":"t1"},{"w":6512.10,"r":-0.010,"t":"t1"},{"w":6512.15,"r":0.012,"t":"t1"},{"w":6512.20,"r":-0.015,"t":"t1"},{"w":6512.25,"r":0.005,"t":"t1"},{"w":6512.30,"r":-0.008,"t":"t1"},{"w":6512.35,"r":0.010,"t":"t1"},{"w":6512.40,"r":-0.012,"t":"t1"},
{"w":6512.45,"r":0.008},{"w":6512.50,"r":-0.005},{"w":6512.55,"r":0.012},{"w":6512.60,"r":0.000},{"w":6512.65,"r":0.028},{"w":6512.70,"r":0.005},{"w":6512.75,"r":0.020},{"w":6512.80,"r":-0.010},{"w":6512.85,"r":0.012},{"w":6512.90,"r":-0.008},{"w":6512.95,"r":0.015},{"w":6513.00,"r":-0.012},{"w":6513.05,"r":0.010},{"w":6513.10,"r":0.000},{"w":6513.15,"r":0.015},{"w":6513.20,"r":0.035},{"w":6513.25,"r":0.008},{"w":6513.30,"r":-0.010},{"w":6513.35,"r":0.012},{"w":6513.40,"r":0.000},{"w":6513.45,"r":0.018},{"w":6513.50,"r":-0.005},
{"w":6513.55,"r":0.020,"t":"t2"},{"w":6513.60,"r":0.000,"t":"t2"},{"w":6513.65,"r":0.015,"t":"t2"},{"w":6513.70,"r":-0.008,"t":"t2"},{"w":6513.75,"r":0.010,"t":"t2"},{"w":6513.80,"r":-0.015,"t":"t2"},
{"w":6513.85,"r":0.012},{"w":6513.90,"r":0.005},{"w":6513.95,"r":0.030},{"w":6514.00,"r":0.010},{"w":6514.05,"r":-0.005},{"w":6514.10,"r":0.020},{"w":6514.15,"r":-0.040},
{"w":6514.20,"r":0.008,"t":"t3"},{"w":6514.25,"r":-0.010,"t":"t3"},{"w":6514.30,"r":0.015,"t":"t3"},{"w":6514.35,"r":-0.005,"t":"t3"},{"w":6514.40,"r":0.020,"t":"t3"},{"w":6514.45,"r":0.002,"t":"t3"},{"w":6514.50,"r":0.018,"t":"t3"},{"w":6514.55,"r":-0.010,"t":"t3"},{"w":6514.60,"r":0.010,"t":"t3"},{"w":6514.65,"r":0.040,"t":"t3"},{"w":6514.70,"r":0.008,"t":"t3"},{"w":6514.75,"r":-0.012,"t":"t3"},{"w":6514.80,"r":0.020,"t":"t3"},{"w":6514.85,"r":-0.008,"t":"t3"},{"w":6514.90,"r":0.015,"t":"t3"},{"w":6514.95,"r":0.000,"t":"t3"},{"w":6515.00,"r":0.018,"t":"t3"},{"w":6515.05,"r":-0.010,"t":"t3"},{"w":6515.10,"r":0.012,"t":"t3"},
{"w":6515.15,"r":0.025},{"w":6515.20,"r":-0.008},{"w":6515.25,"r":0.020},{"w":6515.30,"r":0.000},{"w":6515.35,"r":0.015},{"w":6515.40,"r":-0.012},{"w":6515.45,"r":0.010},{"w":6515.50,"r":0.022},{"w":6515.55,"r":-0.015},{"w":6515.60,"r":0.005},
{"w":6515.65,"r":0.025,"t":"t4"},{"w":6515.70,"r":-0.008,"t":"t4"},{"w":6515.75,"r":0.012,"t":"t4"},{"w":6515.80,"r":-0.005,"t":"t4"},{"w":6515.85,"r":0.018,"t":"t4"},{"w":6515.90,"r":0.000,"t":"t4"},{"w":6515.95,"r":-0.010,"t":"t4"},{"w":6516.00,"r":0.015,"t":"t4"},{"w":6516.05,"r":0.025,"t":"t4"},{"w":6516.10,"r":0.005,"t":"t4"},{"w":6516.15,"r":-0.012,"t":"t4"},{"w":6516.20,"r":0.010,"t":"t4"},{"w":6516.25,"r":-0.005,"t":"t4"},{"w":6516.30,"r":0.018,"t":"t4"},{"w":6516.35,"r":0.000,"t":"t4"},{"w":6516.40,"r":0.012,"t":"t4"},{"w":6516.45,"r":-0.015,"t":"t4"},{"w":6516.50,"r":0.010,"t":"t4"},{"w":6516.55,"r":0.025,"t":"t4"},{"w":6516.60,"r":-0.008,"t":"t4"},{"w":6516.65,"r":0.020,"t":"t4"},{"w":6516.70,"r":0.005,"t":"t4"},{"w":6516.75,"r":0.030,"t":"t4"},{"w":6516.80,"r":0.000,"t":"t4"},{"w":6516.85,"r":0.020,"t":"t4"},{"w":6516.90,"r":-0.010,"t":"t4"},{"w":6516.95,"r":0.025,"t":"t4"},{"w":6517.00,"r":0.005,"t":"t4"},{"w":6517.05,"r":0.015,"t":"t4"},{"w":6517.10,"r":0.020,"t":"t4"},{"w":6517.15,"r":-0.005,"t":"t4"},{"w":6517.20,"r":0.012,"t":"t4"},{"w":6517.25,"r":0.000,"t":"t4"},{"w":6517.30,"r":0.018,"t":"t4"},{"w":6517.35,"r":0.010,"t":"t4"},{"w":6517.40,"r":-0.008,"t":"t4"},{"w":6517.45,"r":0.015,"t":"t4"},{"w":6517.50,"r":0.000,"t":"t4"},{"w":6517.55,"r":0.012,"t":"t4"},{"w":6517.60,"r":0.022,"t":"t4"},
{"w":6517.65,"r":-0.005},{"w":6517.70,"r":0.018},{"w":6517.75,"r":0.060},{"w":6517.80,"r":0.005},{"w":6517.85,"r":0.015},{"w":6517.90,"r":-0.005},
{"w":6517.95,"r":0.010,"t":"t5"},{"w":6518.00,"r":-0.045,"t":"t5"},{"w":6518.05,"r":0.010,"t":"t5"},
{"w":6518.10,"r":-0.005},{"w":6518.15,"r":0.012},{"w":6518.20,"r":0.000},{"w":6518.25,"r":0.020},{"w":6518.30,"r":0.005},{"w":6518.35,"r":0.025},{"w":6518.40,"r":-0.008},{"w":6518.45,"r":0.015},
{"w":6518.50,"r":0.000,"t":"t6"},{"w":6518.55,"r":0.063,"t":"t6"},{"w":6518.60,"r":-0.010,"t":"t6"},{"w":6518.65,"r":0.015,"t":"t6"},{"w":6518.70,"r":0.025,"t":"t6"},{"w":6518.75,"r":-0.005,"t":"t6"},{"w":6518.80,"r":0.030,"t":"t6"},{"w":6518.85,"r":0.000,"t":"t6"},{"w":6518.90,"r":0.028,"t":"t6"},{"w":6518.95,"r":-0.010,"t":"t6"},{"w":6519.00,"r":0.015,"t":"t6"},{"w":6519.05,"r":0.030,"t":"t6"},{"w":6519.10,"r":-0.005,"t":"t6"},{"w":6519.15,"r":0.020,"t":"t6"},{"w":6519.20,"r":0.000,"t":"t6"},{"w":6519.25,"r":0.028,"t":"t6"},{"w":6519.30,"r":-0.008,"t":"t6"},{"w":6519.35,"r":0.015,"t":"t6"},{"w":6519.40,"r":0.030,"t":"t6"},{"w":6519.45,"r":-0.005,"t":"t6"},{"w":6519.50,"r":0.010,"t":"t6"},{"w":6519.55,"r":0.020,"t":"t6"},{"w":6519.60,"r":-0.008,"t":"t6"},{"w":6519.65,"r":0.025,"t":"t6"},{"w":6519.70,"r":0.005,"t":"t6"},{"w":6519.75,"r":0.030,"t":"t6"},{"w":6519.80,"r":-0.005,"t":"t6"},{"w":6519.85,"r":0.020,"t":"t6"},{"w":6519.90,"r":0.000,"t":"t6"},{"w":6519.95,"r":0.015,"t":"t6"},
{"w":6520.00,"r":0.010}
],
"before": [
{"w":6510.00,"r":-0.010},{"w":6510.05,"r":-0.067},{"w":6510.10,"r":-0.045},{"w":6510.15,"r":-0.063},{"w":6510.20,"r":-0.040},{"w":6510.25,"r":-0.065},{"w":6510.30,"r":-0.043},{"w":6510.35,"r":-0.055},{"w":6510.40,"r":-0.015},{"w":6510.45,"r":-0.050},{"w":6510.50,"r":-0.020},{"w":6510.55,"r":-0.060},{"w":6510.60,"r":-0.013},{"w":6510.65,"r":-0.045},{"w":6510.70,"r":-0.065},{"w":6510.75,"r":-0.040},{"w":6510.80,"r":-0.009},{"w":6510.85,"r":-0.043},{"w":6510.90,"r":-0.035},{"w":6510.95,"r":-0.060},{"w":6511.00,"r":-0.037},{"w":6511.05,"r":-0.063},{"w":6511.10,"r":-0.043},{"w":6511.15,"r":-0.055},{"w":6511.20,"r":-0.035},{"w":6511.25,"r":-0.067},{"w":6511.30,"r":-0.040},{"w":6511.35,"r":-0.009},{"w":6511.40,"r":-0.050},{"w":6511.45,"r":-0.085},{"w":6511.50,"r":-0.045},{"w":6511.55,"r":-0.060},{"w":6511.60,"r":-0.033},{"w":6511.65,"r":-0.065},{"w":6511.70,"r":-0.037},{"w":6511.75,"r":-0.035},{"w":6511.80,"r":-0.050},{"w":6511.85,"r":-0.045},{"w":6511.90,"r":-0.075},{"w":6511.95,"r":-0.085},{"w":6512.00,"r":-0.105},{"w":6512.05,"r":-0.070},{"w":6512.10,"r":-0.068},{"w":6512.15,"r":-0.050},{"w":6512.20,"r":-0.090},{"w":6512.25,"r":-0.110},{"w":6512.30,"r":-0.085},{"w":6512.35,"r":-0.055},{"w":6512.40,"r":-0.070},{"w":6512.45,"r":-0.047},{"w":6512.50,"r":-0.060},{"w":6512.55,"r":-0.043},{"w":6512.60,"r":-0.055},{"w":6512.65,"r":-0.027},{"w":6512.70,"r":-0.050},{"w":6512.75,"r":-0.035},{"w":6512.80,"r":-0.065},{"w":6512.85,"r":-0.043},{"w":6512.90,"r":-0.063},{"w":6512.95,"r":-0.040},{"w":6513.00,"r":-0.067},{"w":6513.05,"r":-0.045},{"w":6513.10,"r":-0.055},{"w":6513.15,"r":-0.040},{"w":6513.20,"r":-0.020},{"w":6513.25,"r":-0.047},{"w":6513.30,"r":-0.065},{"w":6513.35,"r":-0.043},{"w":6513.40,"r":-0.055},{"w":6513.45,"r":-0.037},{"w":6513.50,"r":-0.060},{"w":6513.55,"r":-0.040},{"w":6513.60,"r":-0.065},{"w":6513.65,"r":-0.060},{"w":6513.70,"r":-0.063},{"w":6513.75,"r":-0.045},{"w":6513.80,"r":-0.070},{"w":6513.85,"r":-0.043},{"w":6513.90,"r":-0.050},{"w":6513.95,"r":-0.025},{"w":6514.00,"r":-0.045},{"w":6514.05,"r":-0.060},{"w":6514.10,"r":-0.035},{"w":6514.15,"r":-0.095},{"w":6514.20,"r":-0.085},{"w":6514.25,"r":-0.070},{"w":6514.30,"r":-0.050},{"w":6514.35,"r":-0.065},{"w":6514.40,"r":-0.040},{"w":6514.45,"r":-0.058},{"w":6514.50,"r":-0.045},{"w":6514.55,"r":-0.070},{"w":6514.60,"r":-0.060},{"w":6514.63,"r":-0.100},{"w":6514.66,"r":-0.182},{"w":6514.70,"r":-0.219},{"w":6514.74,"r":-0.244},{"w":6514.77,"r":-0.220},{"w":6514.81,"r":-0.133},{"w":6514.84,"r":-0.070},{"w":6514.90,"r":-0.045},{"w":6514.95,"r":-0.055},{"w":6515.00,"r":-0.037},{"w":6515.05,"r":-0.065},{"w":6515.10,"r":-0.043},{"w":6515.15,"r":-0.030},{"w":6515.20,"r":-0.063},{"w":6515.25,"r":-0.035},{"w":6515.30,"r":-0.055},{"w":6515.35,"r":-0.040},{"w":6515.40,"r":-0.067},{"w":6515.45,"r":-0.045},{"w":6515.50,"r":-0.033},{"w":6515.55,"r":-0.070},{"w":6515.60,"r":-0.050},{"w":6515.65,"r":-0.030},{"w":6515.70,"r":-0.063},{"w":6515.75,"r":-0.050},{"w":6515.80,"r":-0.090},{"w":6515.83,"r":-0.155},{"w":6515.85,"r":-0.130},{"w":6515.90,"r":-0.075},{"w":6515.95,"r":-0.065},{"w":6516.00,"r":-0.040},{"w":6516.05,"r":-0.030},{"w":6516.10,"r":-0.050},{"w":6516.15,"r":-0.067},{"w":6516.20,"r":-0.045},{"w":6516.25,"r":-0.060},{"w":6516.30,"r":-0.037},{"w":6516.35,"r":-0.060},{"w":6516.40,"r":-0.085},{"w":6516.45,"r":-0.135},{"w":6516.50,"r":-0.180},{"w":6516.53,"r":-0.210},{"w":6516.55,"r":-0.250},{"w":6516.58,"r":-0.287},{"w":6516.60,"r":-0.275},{"w":6516.62,"r":-0.291},{"w":6516.65,"r":-0.256},{"w":6516.67,"r":-0.170},{"w":6516.70,"r":-0.075},{"w":6516.75,"r":-0.040},{"w":6516.80,"r":-0.060},{"w":6516.85,"r":-0.040},{"w":6516.90,"r":-0.068},{"w":6516.95,"r":-0.040},{"w":6517.00,"r":-0.060},{"w":6517.05,"r":-0.090},{"w":6517.09,"r":-0.157},{"w":6517.10,"r":-0.140},{"w":6517.15,"r":-0.080},{"w":6517.20,"r":-0.050},{"w":6517.25,"r":-0.055},{"w":6517.30,"r":-0.037},{"w":6517.35,"r":-0.045},{"w":6517.40,"r":-0.063},{"w":6517.45,"r":-0.040},{"w":6517.50,"r":-0.055},{"w":6517.55,"r":-0.043},{"w":6517.60,"r":-0.033},{"w":6517.65,"r":-0.060},{"w":6517.70,"r":-0.037},{"w":6517.75,"r":0.005},{"w":6517.80,"r":-0.050},{"w":6517.85,"r":-0.040},{"w":6517.90,"r":-0.060},{"w":6517.95,"r":-0.070},{"w":6518.00,"r":-0.147},{"w":6518.05,"r":-0.100},{"w":6518.10,"r":-0.065},{"w":6518.15,"r":-0.043},{"w":6518.20,"r":-0.055},{"w":6518.25,"r":-0.035},{"w":6518.30,"r":-0.050},{"w":6518.35,"r":-0.030},{"w":6518.40,"r":-0.063},{"w":6518.45,"r":-0.040},{"w":6518.50,"r":-0.055},{"w":6518.55,"r":-0.010},{"w":6518.60,"r":-0.065},{"w":6518.65,"r":-0.040},{"w":6518.70,"r":-0.030},{"w":6518.75,"r":-0.060},{"w":6518.80,"r":-0.025},{"w":6518.85,"r":-0.055},{"w":6518.90,"r":-0.027},{"w":6518.95,"r":-0.065},{"w":6519.00,"r":-0.040},{"w":6519.05,"r":-0.035},{"w":6519.10,"r":-0.105},{"w":6519.15,"r":-0.050},{"w":6519.20,"r":-0.060},{"w":6519.25,"r":-0.027},{"w":6519.30,"r":-0.063},{"w":6519.35,"r":-0.050},{"w":6519.40,"r":-0.090},{"w":6519.45,"r":-0.180},{"w":6519.50,"r":-0.135},{"w":6519.55,"r":-0.085},{"w":6519.60,"r":-0.063},{"w":6519.65,"r":-0.030},{"w":6519.70,"r":-0.050},{"w":6519.75,"r":-0.025},{"w":6519.80,"r":-0.060},{"w":6519.85,"r":-0.035},{"w":6519.90,"r":-0.055},{"w":6519.95,"r":-0.040},{"w":6520.00,"r":-0.030}
]
},
"spacing": 1,
"bounds": "flush",
"resolve": {"scale": {"color": "independent", "x": "independent", "y": "independent"}, "legend": {"color": "independent"}},
"vconcat": [
{
"width": 639, "height": 292,
"title": {"text": "GJ436", "fontSize": 19, "font": "Liberation Sans", "fontWeight": "normal", "color": "black", "anchor": "middle", "offset": 8},
"resolve": {"axis": {"x": "independent", "y": "independent"}},
"layer": [
{"data": {"name": "median"}, "mark": {"type": "line", "strokeWidth": 1.3},
 "encoding": {
  "x": {"field": "w", "type": "quantitative", "scale": {"domain": [6510, 6520], "nice": false, "zero": false}, "axis": {"orient": "bottom", "values": [6510, 6512, 6514, 6516, 6518, 6520], "labels": false, "tickSize": -6, "title": null}},
  "y": {"field": "f", "type": "quantitative", "scale": {"domain": [-0.017, 1.5], "nice": false, "zero": false}, "axis": {"orient": "left", "values": [0, 0.2, 0.4, 0.6, 0.8, 1.0, 1.2, 1.4], "format": ".1f", "tickSize": -12.8, "labelPadding": 20.5, "title": "Normalized flux", "titlePadding": 8}},
  "color": {"datum": "Median spectrum", "type": "nominal", "scale": {"domain": ["Median spectrum", "Observed spectrum", "Modeled telluric absorption", "Corrected spectrum with telluric absorption removed"], "range": ["#000000", "#ff0000", "#0000ff", "#00ff00"]},
   "legend": {"orient": "none", "legendX": 22.5, "legendY": 199, "title": null, "symbolType": "M-1,0H31", "symbolSize": 16, "symbolStrokeWidth": 1.2, "labelFontSize": 16, "labelFont": "Liberation Sans", "labelColor": "black", "labelOffset": 63, "labelLimit": 0, "rowPadding": 1, "padding": 0}}
 }},
{"data": {"name": "observed"}, "mark": {"type": "line", "strokeWidth": 1.3},
 "encoding": {
  "x": {"field": "w", "type": "quantitative", "axis": {"orient": "bottom", "values": [6510, 6510.5, 6511, 6511.5, 6512, 6512.5, 6513, 6513.5, 6514, 6514.5, 6515, 6515.5, 6516, 6516.5, 6517, 6517.5, 6518, 6518.5, 6519, 6519.5, 6520], "labels": false, "tickSize": -3, "title": null}},
  "y": {"field": "f", "type": "quantitative", "axis": {"orient": "left", "values": [0, 0.05, 0.1, 0.15, 0.2, 0.25, 0.3, 0.35, 0.4, 0.45, 0.5, 0.55, 0.6, 0.65, 0.7, 0.75, 0.8, 0.85, 0.9, 0.95, 1.0, 1.05, 1.1, 1.15, 1.2, 1.25, 1.3, 1.35, 1.4, 1.45, 1.5], "labels": false, "tickSize": -6.4, "title": null}},
  "color": {"datum": "Observed spectrum", "type": "nominal"}
 }},
{"data": {"name": "telluric"}, "mark": {"type": "line", "strokeWidth": 1.2},
 "encoding": {
  "x": {"field": "w", "type": "quantitative", "axis": {"orient": "top", "values": [6510, 6512, 6514, 6516, 6518, 6520], "labels": false, "tickSize": -6, "title": null}},
  "y": {"field": "f", "type": "quantitative", "axis": {"orient": "right", "values": [0, 0.2, 0.4, 0.6, 0.8, 1.0, 1.2, 1.4], "labels": false, "tickSize": -12.8, "title": null}},
  "color": {"datum": "Modeled telluric absorption", "type": "nominal"}
 }},
{"data": {"name": "corrected"}, "mark": {"type": "line", "strokeWidth": 1.3},
 "encoding": {
  "x": {"field": "w", "type": "quantitative", "axis": {"orient": "top", "values": [6510, 6510.5, 6511, 6511.5, 6512, 6512.5, 6513, 6513.5, 6514, 6514.5, 6515, 6515.5, 6516, 6516.5, 6517, 6517.5, 6518, 6518.5, 6519, 6519.5, 6520], "labels": false, "tickSize": -3, "title": null}},
  "y": {"field": "f", "type": "quantitative", "axis": {"orient": "right", "values": [0, 0.05, 0.1, 0.15, 0.2, 0.25, 0.3, 0.35, 0.4, 0.45, 0.5, 0.55, 0.6, 0.65, 0.7, 0.75, 0.8, 0.85, 0.9, 0.95, 1.0, 1.05, 1.1, 1.15, 1.2, 1.25, 1.3, 1.35, 1.4, 1.45, 1.5], "labels": false, "tickSize": -6.4, "title": null}},
  "color": {"datum": "Corrected spectrum with telluric absorption removed", "type": "nominal"}
 }}
]
},
{
"width": 639, "height": 149,
"resolve": {"axis": {"x": "independent", "y": "independent"}},
"layer": [
{"data": {"name": "before"}, "mark": {"type": "line", "strokeWidth": 1.2},
 "encoding": {
  "x": {"field": "w", "type": "quantitative", "scale": {"domain": [6510, 6520], "nice": false, "zero": false}, "axis": {"orient": "bottom", "values": [6510, 6512, 6514, 6516, 6518, 6520], "format": "d", "tickSize": -3, "labelPadding": 9.5, "title": "Wavelength (Ang)", "titlePadding": 3}},
  "y": {"field": "r", "type": "quantitative", "scale": {"domain": [-0.417, 0.152], "nice": false, "zero": false}, "axis": {"orient": "left", "values": [-0.4, -0.3, -0.2, -0.1, 0, 0.1], "format": ".1f", "tickSize": -12.8, "labelPadding": 20.5, "title": "Residual", "titlePadding": 10}},
  "color": {"datum": "Residuals before telluric absorption subtraction", "type": "nominal", "scale": {"domain": ["Residuals after telluric absorption subtraction", "Residuals before telluric absorption subtraction"], "range": ["#000000", "#0000ff"]},
   "legend": {"orient": "none", "legendX": 12.5, "legendY": 116, "title": null, "symbolType": "M-1,0H11", "symbolSize": 16, "symbolStrokeWidth": 1.2, "labelFontSize": 10, "labelFont": "Liberation Sans", "labelColor": "black", "labelOffset": 24, "labelLimit": 0, "rowPadding": 0, "padding": 0}}
 }},
{"data": {"name": "after"}, "mark": {"type": "line", "strokeWidth": 1.2},
 "encoding": {
  "x": {"field": "w", "type": "quantitative", "axis": {"orient": "bottom", "values": [6510, 6510.5, 6511, 6511.5, 6512, 6512.5, 6513, 6513.5, 6514, 6514.5, 6515, 6515.5, 6516, 6516.5, 6517, 6517.5, 6518, 6518.5, 6519, 6519.5, 6520], "labels": false, "tickSize": -1.5, "title": null}},
  "y": {"field": "r", "type": "quantitative", "axis": {"orient": "left", "values": [-0.41, -0.4, -0.39, -0.38, -0.37, -0.36, -0.35, -0.34, -0.33, -0.32, -0.31, -0.3, -0.29, -0.28, -0.27, -0.26, -0.25, -0.24, -0.23, -0.22, -0.21, -0.2, -0.19, -0.18, -0.17, -0.16, -0.15, -0.14, -0.13, -0.12, -0.11, -0.1, -0.09, -0.08, -0.07, -0.06, -0.05, -0.04, -0.03, -0.02, -0.01, 0, 0.01, 0.02, 0.03, 0.04, 0.05, 0.06, 0.07, 0.08, 0.09, 0.1, 0.11, 0.12, 0.13, 0.14, 0.15], "labels": false, "tickSize": -6.4, "title": null}},
  "color": {"datum": "Residuals after telluric absorption subtraction", "type": "nominal"}
 }},
{"data": {"name": "after"}, "transform": [{"filter": "datum.t == 't1' || datum.t == 't2' || datum.t == 't3'"}], "mark": {"type": "line", "strokeWidth": 1.2, "color": "#ff0000"},
 "encoding": {
  "x": {"field": "w", "type": "quantitative", "axis": {"orient": "top", "values": [6510, 6512, 6514, 6516, 6518, 6520], "labels": false, "tickSize": -3, "title": null}},
  "y": {"field": "r", "type": "quantitative", "axis": {"orient": "right", "values": [-0.4, -0.3, -0.2, -0.1, 0, 0.1], "labels": false, "tickSize": -12.8, "title": null}},
  "detail": {"field": "t", "type": "nominal"}
 }},
{"data": {"name": "after"}, "transform": [{"filter": "datum.t == 't4' || datum.t == 't5' || datum.t == 't6'"}], "mark": {"type": "line", "strokeWidth": 1.2, "color": "#ff0000"},
 "encoding": {
  "x": {"field": "w", "type": "quantitative", "axis": {"orient": "top", "values": [6510, 6510.5, 6511, 6511.5, 6512, 6512.5, 6513, 6513.5, 6514, 6514.5, 6515, 6515.5, 6516, 6516.5, 6517, 6517.5, 6518, 6518.5, 6519, 6519.5, 6520], "labels": false, "tickSize": -1.5, "title": null}},
  "y": {"field": "r", "type": "quantitative", "axis": {"orient": "right", "values": [-0.41, -0.4, -0.39, -0.38, -0.37, -0.36, -0.35, -0.34, -0.33, -0.32, -0.31, -0.3, -0.29, -0.28, -0.27, -0.26, -0.25, -0.24, -0.23, -0.22, -0.21, -0.2, -0.19, -0.18, -0.17, -0.16, -0.15, -0.14, -0.13, -0.12, -0.11, -0.1, -0.09, -0.08, -0.07, -0.06, -0.05, -0.04, -0.03, -0.02, -0.01, 0, 0.01, 0.02, 0.03, 0.04, 0.05, 0.06, 0.07, 0.08, 0.09, 0.1, 0.11, 0.12, 0.13, 0.14, 0.15], "labels": false, "tickSize": -6.4, "title": null}},
  "detail": {"field": "t", "type": "nominal"}
 }}
]
}
]
}
